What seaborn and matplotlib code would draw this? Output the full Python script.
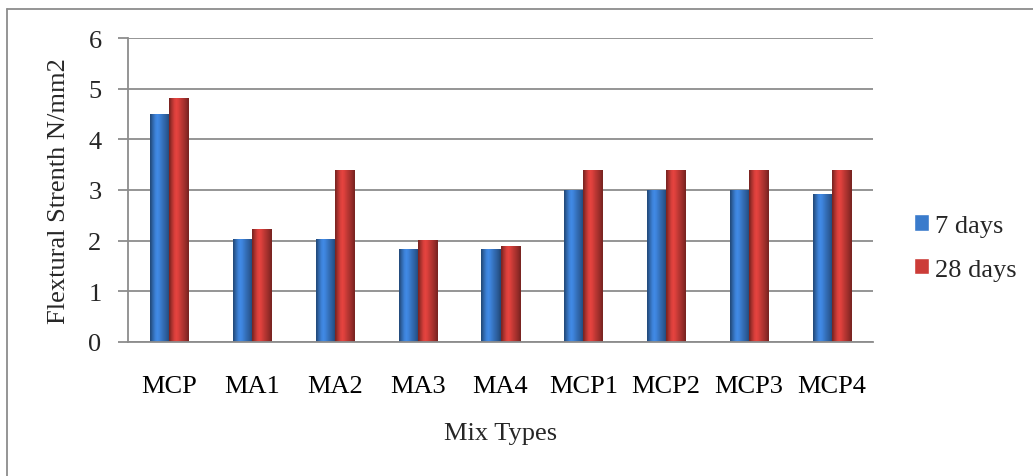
import matplotlib
matplotlib.use("Agg")
import matplotlib.pyplot as plt
import seaborn as sns
import pandas as pd
import numpy as np
from matplotlib.patches import Rectangle
from matplotlib.lines import Line2D
from matplotlib.colors import to_rgb

mix_types = ["MCP", "MA1", "MA2", "MA3", "MA4", "MCP1", "MCP2", "MCP3", "MCP4"]
days7 = [4.5, 2.03, 2.03, 1.84, 1.84, 3.0, 3.0, 3.0, 2.93]
days28 = [4.82, 2.23, 3.39, 2.02, 1.89, 3.39, 3.39, 3.39, 3.39]
series = ["7 days", "28 days"]
colors = ["#3A7BCC", "#CC3C38"]

df = pd.DataFrame({
    "Mix": mix_types * 2,
    "Value": days7 + days28,
    "Age": [series[0]] * len(mix_types) + [series[1]] * len(mix_types),
})

sns.set_theme(style="white")
plt.rcParams["font.family"] = ["Liberation Serif", "DejaVu Serif"]
FS = 19

fig = plt.figure(figsize=(10.33, 4.77), dpi=100)
ax = fig.add_axes([128 / 1033, 1 - 343 / 477, 745 / 1033, 304 / 477])

sns.barplot(data=df, x="Mix", y="Value", hue="Age", palette=colors, saturation=1,
            width=0.46, ax=ax, legend=False, edgecolor="none", linewidth=0)

# cylinder-like horizontal shading clipped to each bar
profile = np.array([0.62, 0.8, 0.95, 1.08, 1.12, 1.08, 1.0, 0.92, 0.85, 0.78, 0.7, 0.6])
for p in list(ax.patches):
    x0, w, h = p.get_x(), p.get_width(), p.get_height()
    if h <= 0:
        continue
    base = np.array(to_rgb(p.get_facecolor()))
    img = np.clip(base[None, None, :] * profile[None, :, None], 0, 1)
    im = ax.imshow(img, extent=[x0, x0 + w, 0, h], aspect="auto",
                   interpolation="bilinear", zorder=p.get_zorder() + 0.1)
    im.set_clip_path(p)

ax.set_ylim(0, 6)
ax.set_xlim(-0.5, len(mix_types) - 0.5)
ax.set_yticks(range(0, 7))
ax.yaxis.grid(True, color="#8C8C8C", linewidth=1.3)
ax.set_axisbelow(True)
for s in ["top", "right"]:
    ax.spines[s].set_visible(False)
for s in ["left", "bottom"]:
    ax.spines[s].set_color("#8C8C8C")
    ax.spines[s].set_linewidth(1.3)

ax.tick_params(axis="x", which="major", length=0, pad=24, labelsize=FS, colors="black")
ax.set_xticks(np.arange(-0.5, len(mix_types), 1.0), minor=True)
ax.tick_params(axis="x", which="minor", length=7, width=1.3, color="#8C8C8C", direction="out")
ax.tick_params(axis="y", which="major", length=7, width=1.3, color="#8C8C8C", direction="out",
               labelsize=FS, pad=12, left=True)

ax.set_xlabel("Mix Types", fontsize=FS, labelpad=18)
ax.set_ylabel("Flextural Strenth N/mm2", fontsize=FS, labelpad=13)

handles = [Rectangle((0, 0), 1, 1, facecolor=c) for c in colors]
fig.legend(handles, series, loc="center left", bbox_to_anchor=(914 / 1033, 1 - 248.5 / 477),
           frameon=False, fontsize=FS, handlelength=0.58, handleheight=0.58,
           handletextpad=0.2, labelspacing=0.8, borderpad=0, borderaxespad=0)

# outer frame (left and top edges visible in the reference)
fig.add_artist(Line2D([7 / 1033, 7 / 1033], [0, 1 - 10 / 477], transform=fig.transFigure,
                      color="#8C8C8C", linewidth=1.3))
fig.add_artist(Line2D([7 / 1033, 1], [1 - 10 / 477, 1 - 10 / 477], transform=fig.transFigure,
                      color="#8C8C8C", linewidth=1.3))

fig.savefig("out.png", dpi=100)
